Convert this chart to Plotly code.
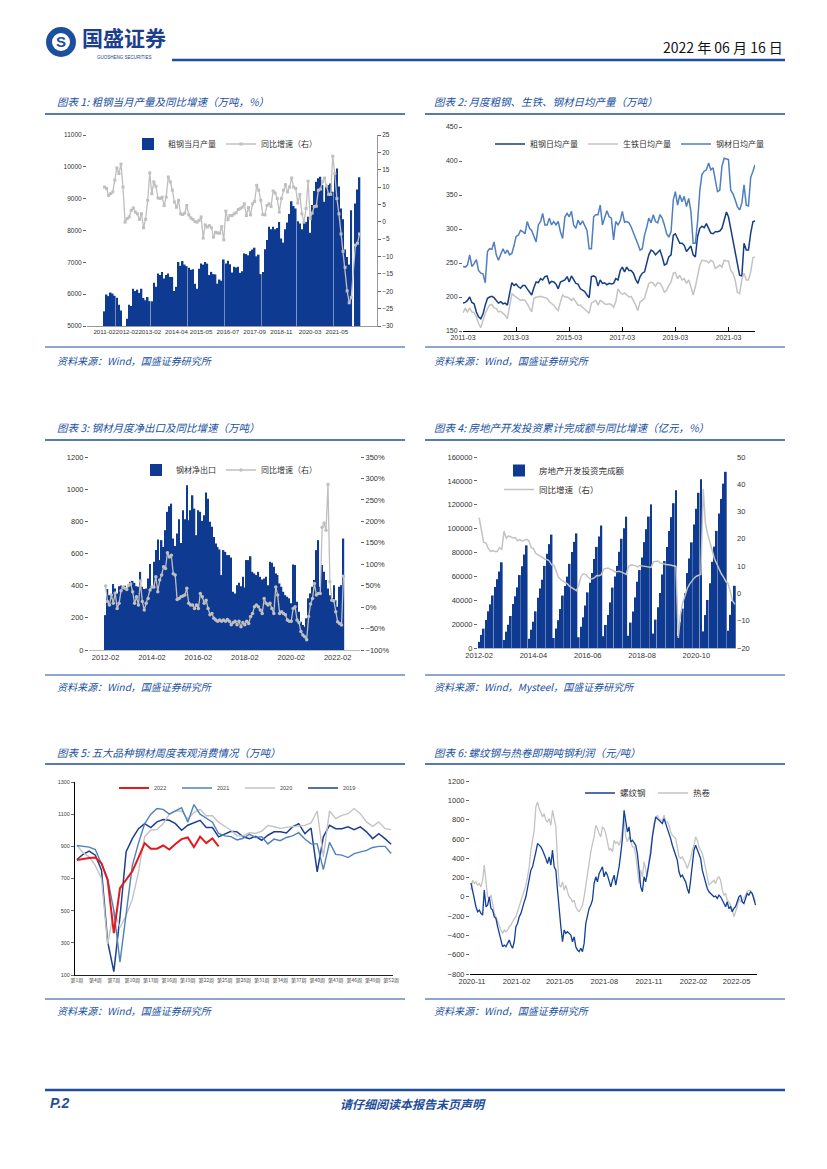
import pandas as pd
import plotly.graph_objects as go

W, H = 827, 1169
CJK = "Noto Sans CJK SC"
NUM = "Liberation Sans Narrow, Liberation Sans, Arial, sans-serif"
NAVY = "#0f3a91"
TBLUE = "#21509f"
GRAY = "#bfbfbf"


def fx(p):
    return p / W


def fy(p):
    return 1 - p / H


# ---------------- Chart 1: crude steel monthly output & YoY ----------------
c1_months = [d.strftime("%Y-%m") for d in pd.date_range("2011-02-01", "2022-05-01", freq="MS") if d.month != 1]
c1_ticks = ["2011-02", "2012-02", "2013-02", "2014-04", "2015-05", "2016-07",
            "2017-09", "2018-11", "2020-03", "2021-05"]
c1_output = [5460, 5990, 5940, 6050, 6020, 5950, 5890, 5670, 5490, None,
             None, 5230, 5670, 5630, 6170, 6100, 6140, 6040, 6170, 5880,
             5810, 5910, 5780, 5780, 6360, 6230, 6650, 6600, 6700, 6490,
             6600, 6650, 6540, 6540, 6100, 6230, 7010, 6890, 7040, 6930,
             6880, 6830, 6770, 6780, 6330, 6170, 6800, 6960, 6930, 7010,
             6960, 6600, 6700, 6630, 6620, 6330, 6460, 6420, 7090, 6960,
             7050, 6940, 6680, 6860, 6840, 6860, 6670, 6720, 7280, 7260,
             7220, 7350, 7400, 7460, 7190, 7240, 6630, 6700, 7410, 7700,
             8120, 8040, 8120, 8040, 8080, 8270, 7750, 7620, 8040, 8250,
             8520, 8920, 8770, 8690, 8290, 8220, 8040, 8250, 8270, 8430,
             7930, 8800, 9240, 9530, 9640, 9690, 9430, 8900, 9380, 9430,
             9480, 9220, 9785, 9950, 9380, 8690, 8350, 7400, 7170, 6930,
             8640, None, 8850, 9290, 9670]
c1_yoy = [10.0, 9.6, 7.6, 8.1, 8.6, 12.0, 15.5, 13.9, 16.6, 10.0,
          -0.1, 0.9, 1.4, 3.3, 4.0, 2.8, 2.3, 0.7, 2.3, -1.7,
          0.7, 6.2, 14.1, 8.1, 11.5, 10.2, 6.9, 6.7, 7.1, 4.7,
          7.1, 12.9, 11.5, 9.1, 5.7, 4.2, 6.2, 2.3, 2.1, 2.5,
          4.7, 2.0, 1.1, 0.7, 0.1, -0.1, 0.4, 1.4, -4.7, -0.9,
          -1.5, -1.1, -1.7, -4.4, -3.0, -3.2, -3.3, -1.4, -5.2, 3.1,
          0.6, 1.8, 1.8, 2.3, 2.6, 3.5, 3.8, 4.2, 5.2, 1.8,
          4.1, 2.0, 5.2, 5.9, 10.5, 9.1, 6.2, 2.1, 2.0, 4.7,
          5.2, 4.4, 8.9, 8.3, 6.7, 2.8, 6.7, 9.1, 10.7, 8.6,
          10.0, 12.6, 10.0, 9.6, 5.4, 7.9, 2.3, -0.1, 3.8, 11.7,
          0.9, 2.5, 4.4, 4.5, 9.1, 9.4, 11.5, 12.6, 10.3, 7.9,
          7.9, 18.9, 13.9, 6.7, 2.3, -3.5, -8.5, -13.1, -19.9, -23.3,
          -21.8, None, -6.7, -6.2, -3.5]

# ---------------- Chart 2: daily average output ----------------
c2_months = pd.date_range("2011-03-01", periods=133, freq="MS")
c2_ticks = ["2011-03", "2013-03", "2015-03", "2017-03", "2019-03", "2021-03"]
c2_crude = [191, 192, 195, 200, 192, 190, 178, 171, 168, 175,
            188, 198, 200, 201, 199, 195, 191, 193, 190, 191,
            188, 205, 221, 217, 219, 215, 213, 217, 217, 212,
            207, 203, 214, 222, 221, 227, 225, 230, 231, 220,
            223, 222, 219, 212, 222, 224, 225, 230, 222, 231,
            225, 220, 219, 212, 210, 208, 203, 199, 230, 231,
            229, 216, 225, 220, 221, 218, 220, 219, 220, 227,
            225, 239, 244, 237, 244, 239, 239, 235, 226, 220,
            230, 235, 237, 252, 262, 269, 267, 262, 265, 269,
            259, 247, 249, 259, 262, 291, 293, 285, 279, 279,
            276, 267, 271, 275, 262, 259, 289, 301, 304, 302,
            308, 301, 294, 293, 296, 296, 297, 301, 312, 325,
            318, 301, 281, 267, 249, 232, 231, 279, 269, 269,
            294, 311, 312]
c2_iron = [177, 183, 178, 184, 178, 177, 171, 161, 155, 166,
           176, 183, 188, 189, 184, 183, 178, 179, 176, 173,
           168, 185, 205, 202, 200, 198, 195, 196, 195, 190,
           183, 178, 198, 200, 200, 201, 200, 199, 198, 193,
           191, 188, 183, 180, 193, 203, 200, 200, 198, 195,
           198, 193, 188, 188, 185, 181, 178, 176, 191, 193,
           195, 188, 195, 193, 190, 189, 190, 189, 185, 193,
           212, 207, 204, 206, 203, 200, 201, 195, 188, 180,
           193, 195, 198, 210, 220, 222, 220, 216, 221, 220,
           215, 207, 210, 217, 222, 235, 236, 227, 232, 225,
           227, 220, 225, 215, 203, 215, 230, 247, 254, 254,
           253, 250, 254, 252, 242, 244, 247, 244, 254, 253,
           253, 239, 235, 225, 207, 205, 226, 235, 225, 225,
           237, 258, 259]
c2_steel = [245, 244, 247, 262, 245, 249, 255, 239, 235, 234,
            221, 267, 271, 270, 281, 262, 254, 264, 271, 264,
            269, 262, 264, 276, 289, 291, 298, 296, 293, 311,
            301, 298, 289, 281, 306, 311, 323, 306, 306, 316,
            306, 311, 306, 311, 296, 286, 318, 323, 318, 326,
            306, 301, 313, 306, 312, 306, 298, 271, 271, 318,
            321, 321, 335, 306, 318, 327, 318, 316, 284, 311,
            306, 312, 326, 310, 311, 309, 303, 293, 286, 278,
            269, 271, 291, 303, 316, 309, 321, 311, 309, 321,
            316, 306, 293, 288, 296, 343, 355, 335, 350, 340,
            348, 333, 345, 326, 279, 279, 311, 357, 380, 385,
            387, 397, 387, 390, 370, 355, 357, 392, 404, 403,
            402, 357, 352, 343, 333, 328, 338, 365, 335, 334,
            376, 385, 394]

# ---------------- Chart 3: steel net exports & YoY ----------------
c3_months = [d.strftime("%Y-%m") for d in pd.date_range("2012-02-01", periods=124, freq="MS")]
c3_ticks = ["2012-02", "2014-02", "2016-02", "2018-02", "2020-02", "2022-02"]
c3_netexp = [217, 379, 341, 348, 410, 383, 352, 397, 401, 393,
             399, 383, 393, 424, 430, 418, 397, 393, 486, 393,
             379, 383, 445, 534, 393, 548, 621, 687, 559, 683,
             641, 745, 859, 894, 910, 693, 646, 724, 813, 666,
             869, 813, 1024, 807, 869, 962, 879, 714, 869, 859,
             803, 838, 979, 941, 797, 766, 703, 662, 641, 625,
             466, 621, 610, 590, 590, 575, 362, 352, 403, 418,
             397, 455, 389, 559, 559, 583, 486, 476, 466, 486,
             455, 439, 445, 455, 403, 548, 542, 517, 476, 466,
             414, 393, 362, 341, 331, 321, 290, 532, 528, 300,
             238, 176, 155, 145, 197, 321, 352, 393, 435, 621,
             683, 393, 528, 486, 435, 383, 341, 321, 403, 310,
             269, 393, 403, 693]
c3_yoy = [49, 13, 5, 28, 9, 33, -3, 9, 38, 47,
          44, 41, 51, 54, 36, 9, 24, 5, 61, 13,
          -7, 9, 20, 40, 47, 47, 71, 36, 63, 75,
          94, 90, 127, 117, 121, 78, 75, 18, 20, 24,
          26, 28, 44, 9, 5, 5, -3, 5, -3, 32,
          24, 9, 16, -3, -18, -15, -26, -30, -33, -30,
          -33, -30, -33, -29, -33, -41, -36, -33, -41, -33,
          -46, -36, -41, -33, -38, -22, -15, 1, 5, 1,
          -7, -15, 20, 9, 5, 9, -3, -15, 47, 28,
          -15, -11, -15, -18, -30, -33, -33, -3, 1, -30,
          -36, -57, -65, -69, -76, -22, 7, 20, 55, 28,
          32, 32, 186, 196, 179, 286, 59, 16, 15, -11,
          -34, -38, -42, 72]

# ---------------- Chart 4: real-estate investment (cumulative) & YoY ----------------
c4_months = [d.strftime("%Y-%m") for d in pd.date_range("2012-02-01", "2022-05-01", freq="MS") if d.month != 1]
c4_ticks = ["2012-02", "2014-04", "2016-06", "2018-08", "2020-10"]
c4_invest = [5140, 10950, 16200, 23400, 30700, 36600, 44000, 51000, 57600, 64100, 71800,
             6800, 13700, 19500, 26800, 36800, 43300, 50800, 61100, 68500, 78300, 86000,
             7700, 15300, 22000, 30700, 42000, 49900, 57200, 68800, 79000, 87000, 95000,
             8400, 16300, 23300, 32600, 43900, 52000, 59800, 70500, 80500, 88900, 96000,
             9000, 17700, 25700, 35600, 46600, 54600, 62800, 74600, 84700, 93400, 102600,
             9900, 19300, 27700, 38200, 50600, 59800, 68800, 80600, 91500, 100400, 110000,
             10300, 21300, 30600, 42400, 55500, 65300, 75800, 88700, 99500, 110100, 120300,
             12100, 23800, 34200, 46100, 61600, 72800, 84600, 98000, 109600, 121300, 132200,
             10100, 21900, 33100, 45900, 62800, 75000, 88500, 103500, 116600, 130000, 141400,
             13900, 27600, 40200, 54300, 72200, 84900, 98100, 112600, 124900, 137700, 147600,
             14500, 27800, 39200, 52100]
c4_yoy = [27.8, 23.5, 18.7, 18.5, 16.6, 15.4, 15.6, 15.4, 15.4, 16.7, 16.2,
          22.8, 20.2, 21.1, 20.6, 20.3, 20.5, 19.3, 19.7, 19.2, 19.5, 19.8,
          19.3, 16.8, 16.4, 14.7, 14.1, 13.7, 13.2, 12.5, 12.4, 11.9, 10.5,
          10.4, 8.5, 6.0, 5.1, 4.6, 4.3, 3.5, 2.6, 2.0, 1.3, 1.0,
          3.0, 6.2, 7.2, 7.0, 6.1, 5.3, 5.4, 5.8, 6.6, 6.5, 6.9,
          8.9, 9.1, 9.3, 8.8, 8.5, 7.9, 7.9, 8.1, 7.8, 7.5, 7.0,
          9.9, 10.4, 10.3, 10.2, 9.7, 10.2, 10.1, 9.9, 9.7, 9.7, 9.5,
          11.6, 11.8, 11.9, 11.2, 10.9, 10.6, 10.5, 10.5, 10.3, 10.2, 9.9,
          -16.3, -7.7, -3.3, -0.3, 1.9, 3.4, 4.6, 5.6, 6.3, 6.8, 7.0,
          38.3, 25.6, 21.6, 18.3, 15.0, 12.7, 10.9, 8.8, 7.2, 6.0, 4.4,
          3.7, 0.7, -2.7, -4.0]

# ---------------- Chart 5: weekly apparent consumption ----------------
c5_weeks = ["第%d周" % i for i in range(1, 53)]
c5_ticks = c5_weeks[::3]
c5_2022 = [815, 822, 828, 830, 795, 690, 360, 640, 690, 745, 830, 920, 885, 885, 905, 880,
           915, 945, 955, 895, 960, 920, 950, 900]
c5_2021 = [905, 900, 895, 880, 790, 700, 500, 180, 480, 780,
           920, 1040, 1100, 1135, 1130, 1100, 1120, 1140, 1050, 1160,
           1100, 1075, 1050, 980, 965, 960, 940, 950, 975, 955,
           960, 915, 945, 935, 955, 965, 985, 945, 915, 915,
           755, 925, 850, 845, 830, 855, 865, 875, 893, 900,
           900, 855]
c5_2020 = [907, 860, 835, 780, 700, 290, 500, 395, 470, 570,
           740, 960, 1000, 1005, 1040, 1100, 1120, 1120, 1070, 1110,
           1130, 1090, 1090, 1050, 1025, 1000, 965, 965, 985, 980,
           995, 1030, 1022, 1012, 1018, 1023, 1024, 1030, 1045, 1120,
           834, 1120, 1072, 1093, 1103, 1135, 1103, 1052, 1024, 1052,
           1010, 1004]
c5_2019 = [818, 850, 870, 845, 752, 307, 121, 462, 866, 948,
           1010, 1041, 1017, 1052, 1066, 1062, 1041, 1000, 1031, 1045,
           1062, 1017, 1017, 959, 975, 994, 990, 959, 948, 962,
           938, 969, 990, 990, 983, 1021, 1041, 979, 1014, 741,
           959, 1031, 1010, 1010, 1021, 1004, 1021, 990, 948, 979,
           948, 913]

# ---------------- Chart 6: spot profit per tonne ----------------
c6_dates = pd.date_range("2020-10-30", "2022-06-09", periods=172)
c6_ticks = ["2020-11", "2021-02", "2021-05", "2021-08", "2021-11", "2022-02", "2022-05"]
c6_rebar = [145, 52, -17, -103, -155, -138, -172, -190, 69, -103,
            -86, 0, -121, -138, -207, -224, -310, -379, -466, -517,
            -500, -517, -483, -448, -500, -534, -466, -310, -276, -207,
            -172, -103, -52, 0, 86, 172, 276, 310, 379, 466,
            552, 534, 517, 483, 448, 397, 345, 414, 328, 483,
            310, 276, 69, -172, -310, -466, -345, -379, -362, -379,
            -397, -466, -414, -517, -552, -569, -534, -569, -483, -276,
            -207, -121, -86, -34, 138, 207, 155, 241, 276, 310,
            207, 259, 224, 172, 103, 172, 224, 121, 207, 310,
            448, 603, 897, 759, 672, 724, 569, 586, 552, 534,
            448, 276, 103, 52, 207, 155, 259, 345, 448, 621,
            741, 828, 810, 793, 776, 759, 810, 759, 724, 672,
            603, 534, 483, 448, 379, 259, 207, 224, 190, 155,
            86, 34, 172, 345, 483, 534, 483, 431, 397, 276,
            207, 155, 86, 52, 34, 17, 0, 7, -17, 17,
            0, -34, -69, -103, -52, -121, -103, -155, -121, -103,
            -52, 0, 17, -52, -69, -17, 34, 17, 52, 34,
            -17, -86]
c6_hrc = [69, 172, 138, 155, 121, 138, 103, 172, 328, 138,
          0, -17, 17, -69, -172, -207, -259, -310, -345, -379,
          -345, -362, -345, -310, -293, -259, -224, -207, -155, -86,
          -52, 0, 69, 121, 207, 310, 483, 569, 690, 931,
          983, 914, 862, 828, 862, 793, 776, 810, 741, 897,
          810, 724, 379, 121, 103, 155, 69, 121, 52, 0,
          -17, -52, -34, -103, -138, -155, -121, -86, 0, 121,
          241, 379, 466, 552, 621, 741, 707, 655, 621, 724,
          707, 655, 569, 483, 500, 466, 586, 552, 569, 534,
          586, 707, 810, 621, 569, 621, 586, 517, 517, 431,
          310, 138, 276, 207, 362, 276, 207, 379, 500, 672,
          759, 793, 845, 810, 793, 793, 845, 776, 776, 741,
          672, 638, 621, 603, 517, 414, 397, 414, 379, 345,
          293, 345, 397, 483, 534, 621, 586, 517, 483, 448,
          379, 276, 207, 121, 138, 155, 172, 138, 190, 207,
          172, 69, 17, 34, -34, -52, -86, -138, -207, -155,
          -103, -17, -52, -34, -17, 17, 52, 69, 62, 34,
          0, -52]

# ---------------- figure ----------------
fig = go.Figure()

# Chart 1
fig.add_trace(go.Bar(x=c1_months, y=c1_output, name="粗钢当月产量", marker=dict(color=NAVY, line=dict(width=0)),
                     xaxis="x", yaxis="y", legend="legend"))
fig.add_trace(go.Scatter(x=c1_months, y=c1_yoy, name="同比增速（右）", mode="lines+markers", connectgaps=True,
                         line=dict(color=GRAY, width=1.3), marker=dict(symbol="square", size=3, color=GRAY),
                         xaxis="x", yaxis="y2", legend="legend"))
# Chart 2
fig.add_trace(go.Scatter(x=c2_months, y=c2_crude, name="粗钢日均产量", mode="lines",
                         line=dict(color="#153d85", width=1.5), xaxis="x2", yaxis="y3", legend="legend2"))
fig.add_trace(go.Scatter(x=c2_months, y=c2_iron, name="生铁日均产量", mode="lines",
                         line=dict(color="#c3c3c3", width=1.5), xaxis="x2", yaxis="y3", legend="legend2"))
fig.add_trace(go.Scatter(x=c2_months, y=c2_steel, name="钢材日均产量", mode="lines",
                         line=dict(color="#4f7fc0", width=1.5), xaxis="x2", yaxis="y3", legend="legend2"))
# Chart 3
fig.add_trace(go.Bar(x=c3_months, y=c3_netexp, name="钢材净出口", marker=dict(color=NAVY, line=dict(width=0)),
                     xaxis="x3", yaxis="y4", legend="legend3"))
fig.add_trace(go.Scatter(x=c3_months, y=c3_yoy, name="同比增速（右）", mode="lines+markers",
                         line=dict(color=GRAY, width=1.3), marker=dict(symbol="circle", size=3.5, color=GRAY),
                         xaxis="x3", yaxis="y5", legend="legend3"))
# Chart 4
fig.add_trace(go.Bar(x=c4_months, y=c4_invest, name="房地产开发投资完成额", marker=dict(color=NAVY, line=dict(width=0)),
                     xaxis="x4", yaxis="y6", legend="legend4"))
fig.add_trace(go.Scatter(x=c4_months, y=c4_yoy, name="同比增速（右）", mode="lines",
                         line=dict(color="#c3c3c3", width=1.5), xaxis="x4", yaxis="y7", legend="legend4"))
# Chart 5
c5_series = [("2019", c5_2019, "#1c3f8e", 1.5, 4), ("2020", c5_2020, "#c3c3c3", 1.4, 3),
             ("2021", c5_2021, "#4f81bd", 1.4, 2), ("2022", c5_2022, "#e3191e", 2.0, 1)]
for nm, vals, col, wd, rk in c5_series:
    fig.add_trace(go.Scatter(x=c5_weeks[:len(vals)], y=vals, name=nm, mode="lines", legendrank=rk,
                             line=dict(color=col, width=wd), xaxis="x5", yaxis="y8", legend="legend5"))
# Chart 6
fig.add_trace(go.Scatter(x=c6_dates, y=c6_hrc, name="热卷", mode="lines", legendrank=2,
                         line=dict(color="#c3c3c3", width=1.3), xaxis="x6", yaxis="y9", legend="legend6"))
fig.add_trace(go.Scatter(x=c6_dates, y=c6_rebar, name="螺纹钢", mode="lines", legendrank=1,
                         line=dict(color="#123f99", width=1.3), xaxis="x6", yaxis="y9", legend="legend6"))


def tfont(size, family=NUM, color="#333"):
    return dict(family=family, size=size, color=color)


def yax(**kw):
    base = dict(showgrid=False, zeroline=False, ticks="outside", ticklen=3, tickcolor="#666",
                automargin=False, tickformat="d", showline=False)
    base.update(kw)
    return base


def xax(**kw):
    base = dict(showgrid=False, zeroline=False, automargin=False, tickangle=0)
    base.update(kw)
    return base


def xdom(a, b):
    return [fx(a), fx(b)]


def ydom(top, bottom):
    return [fy(bottom), fy(top)]


layout_axes = dict(
    # chart 1
    xaxis=xax(domain=xdom(87, 377), anchor="y", type="category", tickmode="array", tickvals=c1_ticks,
              ticktext=c1_ticks, showline=True, linecolor="#999", linewidth=0.8, ticks="",
              tickfont=tfont(6.2)),
    yaxis=yax(domain=ydom(135, 326), anchor="x", range=[5000, 11000], dtick=1000, tickfont=tfont(6.5)),
    yaxis2=yax(overlaying="y", side="right", anchor="x", range=[-30, 25], dtick=5, showline=True,
               linecolor="#999", linewidth=0.8, tickfont=tfont(6.5)),
    # chart 2
    xaxis2=xax(domain=xdom(463, 755), anchor="y3", type="date", range=["2011-03-01", "2022-03-01"],
               tickmode="array", tickvals=[pd.Timestamp(t + "-01") for t in c2_ticks], ticktext=c2_ticks,
               showline=True, linecolor="#000", linewidth=1, ticks="inside", ticklen=4,
               tickcolor="#000", tickfont=tfont(7)),
    yaxis3=yax(domain=ydom(127, 331), anchor="x2", range=[150, 450], dtick=50, tickfont=tfont(7)),
    # chart 3
    xaxis3=xax(domain=xdom(89, 360), anchor="y4", type="category", tickmode="array", tickvals=c3_ticks,
               ticktext=c3_ticks, showline=True, linecolor="#bbb", linewidth=0.8, ticks="",
               tickfont=tfont(7.5)),
    yaxis4=yax(domain=ydom(457, 650), anchor="x3", range=[0, 1200], dtick=200, tickfont=tfont(7.5)),
    yaxis5=yax(overlaying="y4", side="right", anchor="x3", range=[-100, 350], dtick=50, ticksuffix="%",
               tickfont=tfont(7.5)),
    # chart 4
    xaxis4=xax(domain=xdom(478, 736), anchor="y6", type="category", tickmode="array", tickvals=c4_ticks,
               ticktext=c4_ticks, showline=True, linecolor="#bbb", linewidth=0.8, ticks="",
               tickfont=tfont(7.5)),
    yaxis6=yax(domain=ydom(457, 648), anchor="x4", range=[0, 160000], dtick=20000, tickfont=tfont(7.5)),
    yaxis7=yax(overlaying="y6", side="right", anchor="x4", range=[-20, 50], dtick=10, ticks="",
               tickfont=tfont(7.5)),
    # chart 5
    xaxis5=xax(domain=xdom(75, 393), anchor="y8", type="category", range=[-0.3, 51.3], tickmode="array",
               tickvals=c5_ticks, ticktext=c5_ticks, showline=True, linecolor="#222", linewidth=0.8,
               ticks="", tickfont=tfont(5, CJK, "#444")),
    yaxis8=yax(domain=ydom(782, 975), anchor="x5", range=[100, 1300], tick0=100, dtick=200, showline=True,
               linecolor="#000", linewidth=1, tickfont=tfont(5.5, NUM, "#444")),
    # chart 6
    xaxis6=xax(domain=xdom(470, 757), anchor="y9", type="date", range=["2020-10-28", "2022-06-12"],
               tickmode="array", tickvals=[pd.Timestamp(t + "-01") for t in c6_ticks], ticktext=c6_ticks,
               showline=True, linecolor="#000", linewidth=1, ticks="", tickfont=tfont(7.5)),
    yaxis9=yax(domain=ydom(781, 974), anchor="x6", range=[-800, 1200], dtick=200, tickfont=tfont(7.5)),
)

lg = dict(bgcolor="rgba(0,0,0,0)", borderwidth=0, font=dict(family=CJK, size=8, color="#333"),
          xanchor="left", yanchor="middle", itemwidth=30)
legends = dict(
    legend=dict(lg, x=fx(128), y=fy(144), orientation="h"),
    legend2=dict(lg, x=fx(490), y=fy(144), orientation="h", entrywidth=48, entrywidthmode="pixels"),
    legend3=dict(lg, x=fx(136), y=fy(470), orientation="h"),
    legend4=dict(lg, x=fx(499), y=fy(480), orientation="v", tracegroupgap=2,
                 font=dict(family=CJK, size=8.5, color="#333")),
    legend5=dict(lg, x=fx(114), y=fy(788), orientation="h", entrywidth=18, entrywidthmode="pixels",
                 font=dict(family=NUM, size=5.5, color="#444")),
    legend6=dict(lg, x=fx(580), y=fy(793), orientation="h", entrywidth=28, entrywidthmode="pixels",
                 font=dict(family=CJK, size=8.5, color="#333")),
)

# ---------------- page decoration ----------------
shapes = []
annots = []


def hline(x0, x1, y, w=1.5, color="#1f4e9c"):
    shapes.append(dict(type="line", xref="paper", yref="paper", x0=fx(x0), x1=fx(x1), y0=fy(y), y1=fy(y),
                       line=dict(color=color, width=w)))


def txt(x, y, s, size, color, xanchor="left", family=CJK):
    annots.append(dict(x=fx(x), y=fy(y), xref="paper", yref="paper", text=s, showarrow=False,
                       xanchor=xanchor, yanchor="middle", font=dict(size=size, color=color, family=family)))


# header
shapes.append(dict(type="circle", xref="paper", yref="paper", x0=fx(46), x1=fx(76), y0=fy(57), y1=fy(27),
                   fillcolor="#1d4f9f", line=dict(width=0)))
shapes.append(dict(type="circle", xref="paper", yref="paper", x0=fx(52), x1=fx(70), y0=fy(51), y1=fy(33),
                   fillcolor="white", line=dict(width=0)))
txt(61, 42, "<b>S</b>", 15, "#1d4f9f", "center", "Liberation Sans")
txt(124, 37, "<b>国盛证券</b>", 21, "#1b3e8d", "center")
txt(124, 57, "GUOSHENG SECURITIES", 4.5, "#1b3e8d", "center", "Liberation Sans")
txt(785, 47, "2022 年 06 月 16 日", 14, "#111", "right")
hline(172, 785, 60, 2.5, "#1f4e9c")

# titles & sources
rows = [(101, 114, 347, 360), (427, 440, 675, 686), (752, 764, 999, 1010)]
titles = [("图表 1: 粗钢当月产量及同比增速（万吨，%）", "图表 2: 月度粗钢、生铁、钢材日均产量（万吨）"),
          ("图表 3: 钢材月度净出口及同比增速（万吨）", "图表 4: 房地产开发投资累计完成额与同比增速（亿元，%）"),
          ("图表 5: 五大品种钢材周度表观消费情况（万吨）", "图表 6: 螺纹钢与热卷即期吨钢利润（元/吨）")]
sources = [("资料来源：Wind，国盛证券研究所", "资料来源：Wind，国盛证券研究所"),
           ("资料来源：Wind，国盛证券研究所", "资料来源：Wind，Mysteel，国盛证券研究所"),
           ("资料来源：Wind，国盛证券研究所", "资料来源：Wind，国盛证券研究所")]
for (ty, tl, sl, sy), (t1, t2), (s1, s2) in zip(rows, titles, sources):
    txt(55, ty, "<i>" + t1 + "</i>", 10.5, TBLUE)
    txt(432, ty, "<i>" + t2 + "</i>", 10.5, TBLUE)
    hline(45, 405, tl, 1.5)
    hline(425, 785, tl, 1.5)
    hline(45, 405, sl, 1.2)
    hline(425, 785, sl, 1.2)
    txt(55, sy, "<i>" + s1 + "</i>", 10, TBLUE)
    txt(432, sy, "<i>" + s2 + "</i>", 10, TBLUE)

# footer
hline(45, 785, 1090, 2.5, "#1f4e9c")
txt(48, 1103, "<b><i>P.2</i></b>", 14, "#1f4e9c", "left", "Liberation Sans")
txt(413, 1103, "<b><i>请仔细阅读本报告末页声明</i></b>", 12, "#1f4e9c", "center")

fig.update_layout(
    width=W, height=H, margin=dict(l=0, r=0, t=0, b=0, pad=0, autoexpand=False),
    paper_bgcolor="white", plot_bgcolor="white",
    bargap=0.22, showlegend=True, shapes=shapes, annotations=annots, **layout_axes, **legends,
)

fig.write_html("out.html", config={"displayModeBar": False},
               post_script="document.body.style.margin='0';document.body.style.padding='0';")
